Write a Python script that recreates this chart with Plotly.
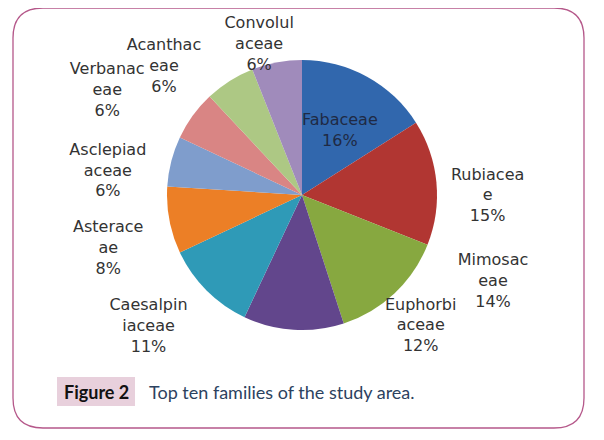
import plotly.graph_objects as go

# top ten families (percent of species)
families = ['Fabaceae', 'Rubiaceae', 'Mimosaceae', 'Euphorbiaceae', 'Caesalpiniaceae',
            'Asteraceae', 'Asclepiadaceae', 'Verbanaceae', 'Acanthaceae', 'Convolulaceae']
shares = [16, 15, 14, 12, 11, 8, 6, 6, 6, 6]
# labels wrapped the way the original chart wraps them
wrapped = ['Fabaceae', 'Rubiacea<br>e', 'Mimosac<br>eae', 'Euphorbi<br>aceae', 'Caesalpin<br>iaceae',
           'Asterace<br>ae', 'Asclepiad<br>aceae', 'Verbanac<br>eae', 'Acanthac<br>eae', 'Convolul<br>aceae']
colors = ['#3167ad', '#b13632', '#87a840', '#62468c', '#2f9ab7',
          '#ec7f26', '#7f9dcc', '#d98584', '#adc884', '#a08bbb']

# the page adds an 8px body margin, so the figure is drawn 8px smaller
OFF = 8
W, H = 604 - OFF, 440 - OFF
cx, cy = 302 - OFF, 195 - OFF      # pie centre, px from figure top-left
tpl = '%{customdata}<br>%{percent:.0%}'


def dom(radius, dx=0):
    return dict(x=[(cx + dx - radius) / W, (cx + dx + radius) / W],
                y=[(H - cy - radius) / H, (H - cy + radius) / H])


fig = go.Figure()
# the visible pie, no text of its own
fig.add_trace(go.Pie(
    labels=families, values=shares, textinfo='none',
    sort=False, direction='clockwise', rotation=0, automargin=False,
    marker=dict(colors=colors, line=dict(color='white', width=0)),
    domain=dom(135), showlegend=False, hoverinfo='label+percent'
))

# clear rings carry the labels, nudged the way Excel placed them:
# angle shift (deg), label distance (px), ring size (px) and sideways shift of the ring (px)
label_shift = [1.5, 5, -18, -46, -4, -7, -6, 1, -10, -5]
label_dist = [75, 166, 178, 176, 173, 172, 171, 175, 175, 127]
label_ring = [100, cy, cy, cy, cy, cy, cy, cy, cy, cy]
label_dx = [0, 20, 35, 0, -40, -30, -25, -55, -20, 0]
for i in range(len(families)):
    size = label_ring[i]
    fig.add_trace(go.Pie(
        labels=families, values=shares, customdata=wrapped,
        texttemplate=[tpl if j == i else '' for j in range(len(families))],
        textposition='inside', insidetextorientation='horizontal',
        sort=False, direction='clockwise', rotation=label_shift[i],
        automargin=False, hole=2 * label_dist[i] / size - 1,
        marker=dict(colors=['rgba(0,0,0,0)'] * 10, line=dict(width=0)),
        textfont=dict(family='DejaVu Sans', size=16,
                      color='#1f2a44' if i == 0 else '#333333'),
        domain=dom(size, label_dx[i]), showlegend=False, hoverinfo='skip'
    ))

# rounded frame round the figure
x0, x1, y0, y1, r = 13, 584, 8, 428, 30
def px(x): return (x - OFF) / W
def py(y): return 1 - (y - OFF) / H
path = (f"M {px(x0 + r)} {py(y0)} L {px(x1 - r)} {py(y0)} Q {px(x1)} {py(y0)} {px(x1)} {py(y0 + r)} "
        f"L {px(x1)} {py(y1 - r)} Q {px(x1)} {py(y1)} {px(x1 - r)} {py(y1)} "
        f"L {px(x0 + r)} {py(y1)} Q {px(x0)} {py(y1)} {px(x0)} {py(y1 - r)} "
        f"L {px(x0)} {py(y0 + r)} Q {px(x0)} {py(y0)} {px(x0 + r)} {py(y0)} Z")

fig.update_layout(
    width=W, height=H, margin=dict(l=0, r=0, t=0, b=0, pad=0, autoexpand=False),
    paper_bgcolor='white', plot_bgcolor='white',
    uniformtext=dict(minsize=16, mode='show'),
    shapes=[
        dict(type='path', xref='paper', yref='paper', path=path,
             line=dict(color='#b5588a', width=1.3)),
        dict(type='rect', xref='paper', yref='paper',
             x0=px(57), x1=px(135), y0=py(406), y1=py(377),
             fillcolor='#e8d0dc', line=dict(width=0), layer='below'),
    ],
    annotations=[
        dict(text='<b>Figure 2</b>', xref='paper', yref='paper', x=px(96), y=py(391.5),
             xanchor='center', yanchor='middle', showarrow=False,
             font=dict(family='Lato', size=18, color='#111111')),
        dict(text='Top ten families of the study area.', xref='paper', yref='paper',
             x=px(147), y=py(391.5), xanchor='left', yanchor='middle', showarrow=False,
             font=dict(family='Lato', size=18, color='#2c4260')),
    ],
)

fig.write_html("out.html")
